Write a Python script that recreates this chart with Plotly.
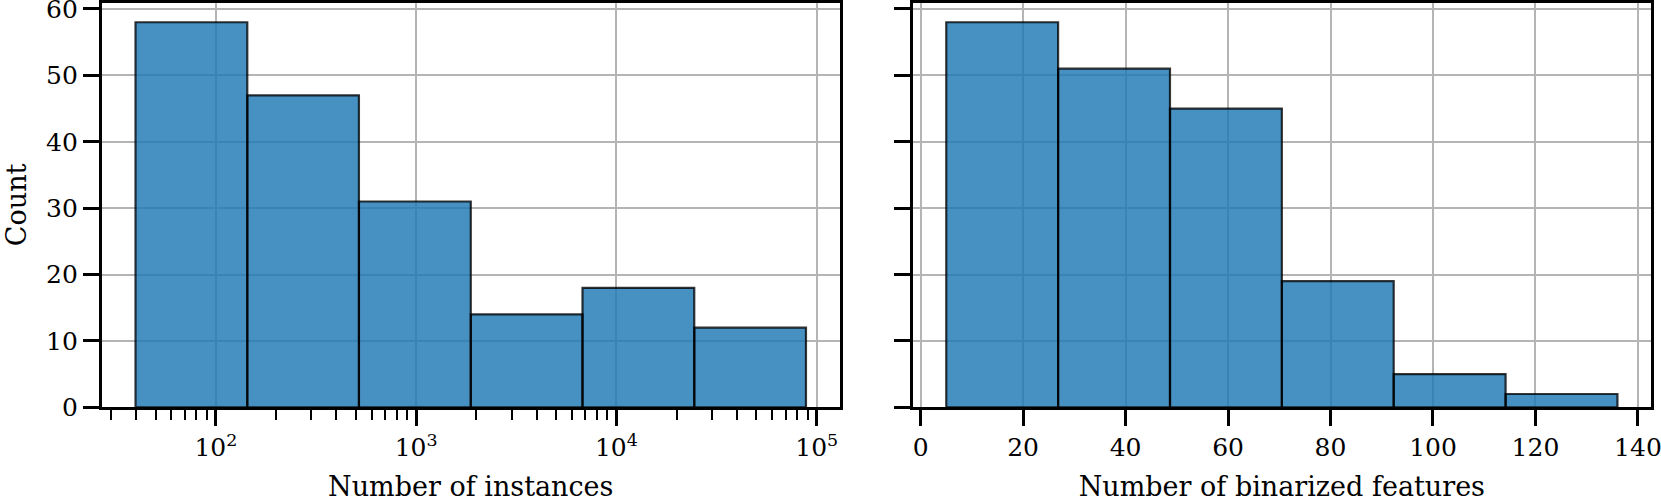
import plotly.graph_objects as go
import math

# ---------------- data ----------------
count_title = "Count"
instance_title = "Number of instances"
feature_title = "Number of binarized features"

instance_bin_edges = [39.7, 143.5, 518, 1874, 6770, 24470, 88400]
instance_counts = [58, 47, 31, 14, 18, 12]

feature_bin_edges = [5, 26.83, 48.67, 70.5, 92.33, 114.17, 136]
feature_counts = [58, 51, 45, 19, 5, 2]

instance_tickvals = [100, 1000, 10000, 100000]
instance_ticktext = ["10<sup>2</sup>", "10<sup>3</sup>", "10<sup>4</sup>", "10<sup>5</sup>"]
feature_tickvals = [0, 20, 40, 60, 80, 100, 120, 140]
count_tickvals = [0, 10, 20, 30, 40, 50, 60]

# ---------------- style ----------------
W, H = 1661, 502
FONT = "DejaVu Serif"
FS_TICK = 25
FS_TITLE = 27
FILL = "rgba(31,119,180,0.82)"
EDGE = "rgba(0,0,0,0.78)"
GRID = "#b4b4b4"


def bar_outline(edges, counts):
    xs, ys = [], []
    for i, c in enumerate(counts):
        l, r = edges[i], edges[i + 1]
        xs += [l, l, r, r, l, None]
        ys += [0, c, c, 0, 0, None]
    return xs, ys


fig = go.Figure()

xs, ys = bar_outline(instance_bin_edges, instance_counts)
fig.add_trace(go.Scatter(x=xs, y=ys, mode="lines", fill="toself", fillcolor=FILL,
                         line=dict(color=EDGE, width=2.2), xaxis="x", yaxis="y",
                         hoverinfo="skip", showlegend=False))
xs, ys = bar_outline(feature_bin_edges, feature_counts)
fig.add_trace(go.Scatter(x=xs, y=ys, mode="lines", fill="toself", fillcolor=FILL,
                         line=dict(color=EDGE, width=2.2), xaxis="x2", yaxis="y2",
                         hoverinfo="skip", showlegend=False))

# axis ranges (5% padding like matplotlib)
lo = math.log10(min(instance_bin_edges))
hi = math.log10(max(instance_bin_edges))
pad = 0.05 * (hi - lo)
inst_range = [lo - pad, hi + pad]
flo, fhi = min(feature_bin_edges), max(feature_bin_edges)
fpad = 0.05 * (fhi - flo)
feat_range = [flo - fpad, fhi + fpad]
ymax = max(max(instance_counts), max(feature_counts)) * 1.05

minor_vals = [k * 10 ** n for n in range(1, 5) for k in range(2, 10)]

common = dict(
    showline=True, linecolor="black", linewidth=3.2, mirror=True,
    ticks="outside", ticklen=16, tickwidth=2.8, tickcolor="black",
    showgrid=True, gridcolor=GRID, gridwidth=2.4, zeroline=False,
    tickfont=dict(family=FONT, size=FS_TICK, color="black"),
    automargin=False, ticklabeloverflow="allow",
)

ydom = [(H - 407.3) / H, (H - 3) / H]

fig.update_layout(
    width=W, height=H,
    margin=dict(l=0, r=0, t=0, b=0, autoexpand=False),
    paper_bgcolor="white", plot_bgcolor="white",
    font=dict(family=FONT, size=FS_TICK, color="black"),
    showlegend=False,
    xaxis=dict(
        common, type="log", domain=[102 / W, 839.5 / W], range=inst_range,
        tickmode="array", tickvals=instance_tickvals, ticktext=instance_ticktext,
        anchor="y",
        minor=dict(tickmode="array", tickvals=minor_vals, ticks="outside",
                   ticklen=10, tickwidth=2.2, tickcolor="black", showgrid=False),
        title=dict(text=instance_title, standoff=18,
                   font=dict(family=FONT, size=FS_TITLE, color="black")),
    ),
    yaxis=dict(
        common, domain=ydom, range=[0, ymax], tickmode="array",
        tickvals=count_tickvals, anchor="x",
    ),
    xaxis2=dict(
        common, domain=[912.7 / W, 1651 / W], range=feat_range,
        tickmode="array", tickvals=feature_tickvals, anchor="y2",
        title=dict(text=feature_title, standoff=18,
                   font=dict(family=FONT, size=FS_TITLE, color="black")),
    ),
    yaxis2=dict(
        common, domain=ydom, range=[0, ymax], tickmode="array",
        tickvals=count_tickvals, anchor="x2", showticklabels=False,
    ),
    annotations=[dict(
        text=count_title, xref="paper", yref="paper",
        x=16 / W, y=(ydom[0] + ydom[1]) / 2, xanchor="center", yanchor="middle",
        textangle=-90, showarrow=False,
        font=dict(family=FONT, size=FS_TITLE, color="black"),
    )],
)

fig.write_html(
    "out.html",
    config={"displayModeBar": False},
    post_script="document.body.style.margin='0px';document.body.style.padding='0px';"
                "document.body.style.overflow='hidden';",
)
